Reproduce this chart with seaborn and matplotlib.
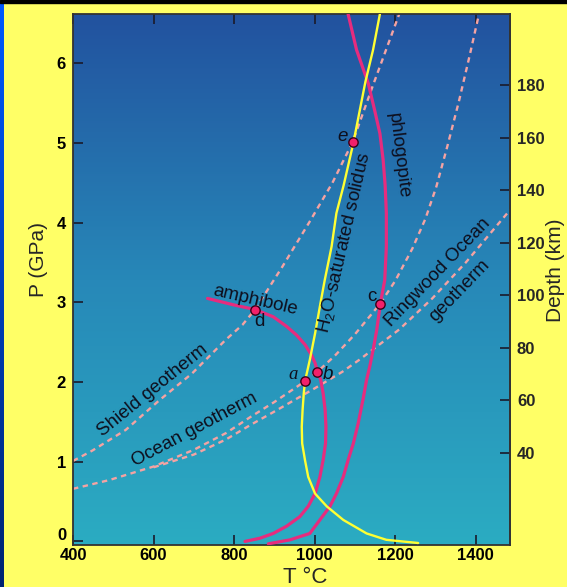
import numpy as np
import matplotlib
matplotlib.use("Agg")
import matplotlib.pyplot as plt
import matplotlib.transforms as mtransforms
from matplotlib.colors import LinearSegmentedColormap
from matplotlib.patches import Rectangle
import seaborn as sns

# ---- data: temperature (deg C) and pressure (GPa) ----
shield_T = [400, 448, 531, 614, 696, 779, 821, 852, 920, 986, 1044, 1094, 1143, 1210]
shield_P = [1.01, 1.14, 1.40, 1.77, 2.11, 2.53, 2.72, 2.91, 3.45, 4.00, 4.50, 5.01, 5.70, 6.62]

ocean_T = [400, 490, 600, 700, 780, 840, 900, 976, 1007, 1050, 1100, 1162, 1200, 1243,
           1275, 1302, 1330, 1358, 1384, 1408]
ocean_P = [0.66, 0.77, 0.94, 1.15, 1.36, 1.56, 1.75, 2.01, 2.13, 2.33, 2.60, 2.98, 3.27, 3.68,
           4.05, 4.45, 4.97, 5.52, 6.08, 6.62]

ringwood_T = [600, 700, 780, 840, 900, 1003, 1069, 1111, 1210, 1292, 1375, 1485]
ringwood_P = [0.93, 1.09, 1.28, 1.46, 1.63, 1.93, 2.13, 2.28, 2.66, 3.05, 3.50, 4.16]

solidus_T = [1162, 1145, 1126, 1096, 1072, 1054, 1042, 1025, 1013, 1001, 988, 976, 973, 970,
             968, 969, 976, 984, 1001, 1030, 1071, 1129, 1178, 1257]
solidus_P = [6.62, 6.17, 5.77, 5.00, 4.47, 4.12, 3.70, 3.28, 2.95, 2.61, 2.28, 2.01, 1.86, 1.65,
             1.44, 1.23, 1.02, 0.81, 0.60, 0.44, 0.27, 0.10, 0.02, -0.02]

phlogopite_T = [1083, 1104, 1133, 1149, 1162, 1170, 1175, 1178, 1178, 1174, 1163, 1154, 1145,
                1137, 1129, 1120, 1108, 1096, 1083, 1071, 1054, 1038, 1013, 988, 939, 885]
phlogopite_P = [6.62, 6.17, 5.75, 5.41, 5.12, 4.79, 4.47, 4.12, 3.70, 3.28, 2.98, 2.65, 2.40,
                2.20, 2.03, 1.78, 1.48, 1.23, 1.02, 0.81, 0.60, 0.44, 0.27, 0.10, 0.02, -0.03]

amphibole_T = [734, 798, 852, 897, 930, 955, 976, 992, 1001, 1007, 1015, 1021, 1026, 1028,
               1027, 1021, 1013, 1001, 984, 963, 930, 897, 864, 827]
amphibole_P = [3.05, 2.97, 2.91, 2.82, 2.70, 2.59, 2.47, 2.34, 2.24, 2.13, 2.03, 1.86, 1.65,
               1.44, 1.23, 1.02, 0.81, 0.60, 0.44, 0.31, 0.19, 0.10, 0.04, 0.00]

point_names = ["a", "b", "c", "d", "e"]
point_T = [976, 1007, 1162, 852, 1094]
point_P = [2.01, 2.13, 2.98, 2.91, 5.01]

x_ticks = [400, 600, 800, 1000, 1200, 1400]
p_ticks = [0, 1, 2, 3, 4, 5, 6]
depth_ticks = [40, 60, 80, 100, 120, 140, 160, 180]

# depth (km) as a linear function of pressure (GPa)
KM_PER_GPA = 30.3
KM_OFFSET = 6.4

sns.set_theme(style="white")
plt.rcParams["font.family"] = ["Liberation Sans", "DejaVu Sans"]
plt.rcParams["mathtext.fontset"] = "custom"
plt.rcParams["mathtext.rm"] = "Liberation Sans"
plt.rcParams["mathtext.it"] = "Liberation Sans:italic"

W, H = 567, 587
fig = plt.figure(figsize=(W / 100, H / 100), dpi=100, facecolor="#FFFF66")

# frame decorations: black top rule and blue strip on the left
fig.add_artist(Rectangle((0, 1 - 3 / H), 1, 3 / H, transform=fig.transFigure,
                         color="black", zorder=5))
strip = fig.add_axes([0, 0, 4 / W, 1 - 3 / H])
strip.imshow(np.linspace(0, 1, 256).reshape(-1, 1), aspect="auto", origin="lower",
             cmap=LinearSegmentedColormap.from_list("strip", ["#002470", "#0058FF"]))
strip.set_axis_off()

ax = fig.add_axes([73 / W, 42 / H, 437 / W, 531 / H])
xlim = (400, 1485)
ylim = (-0.045, 6.62)

bg = LinearSegmentedColormap.from_list("bg", ["#2BACC2", "#2788B8", "#22529F"])
ax.imshow(np.linspace(0, 1, 256).reshape(-1, 1), extent=[*xlim, *ylim], origin="lower",
          aspect="auto", cmap=bg, zorder=0)

dash_color = "#F4A3A3"
dash_style = (0, (2.3, 1.9))
for T, P in [(shield_T, shield_P), (ocean_T, ocean_P), (ringwood_T, ringwood_P)]:
    sns.lineplot(x=T, y=P, sort=False, estimator=None, ax=ax, color=dash_color,
                 lw=1.7, linestyle=dash_style, zorder=2)

pink = "#E62C7E"
for T, P in [(phlogopite_T, phlogopite_P), (amphibole_T, amphibole_P)]:
    sns.lineplot(x=T, y=P, sort=False, estimator=None, ax=ax, color=pink, lw=2.3,
                 solid_capstyle="round", solid_joinstyle="round", zorder=3)
sns.lineplot(x=solidus_T, y=solidus_P, sort=False, estimator=None, ax=ax, color="#FFFF33",
             lw=1.7, solid_capstyle="round", solid_joinstyle="round", zorder=4)

sns.scatterplot(x=point_T, y=point_P, ax=ax, color="#F2206A", edgecolor="#3A0018",
                linewidth=1.0, s=45, zorder=6)

ax.set_xlim(*xlim)
ax.set_ylim(*ylim)

# curve and point labels
txt = dict(color="#0E0E1C", ha="center", va="center", rotation_mode="anchor", zorder=7)
ax.text(597, 1.89, "Shield geotherm", fontsize=13.5, rotation=39, **txt)
ax.text(701, 1.40, "Ocean geotherm", fontsize=13.5, rotation=28, **txt)
ax.text(852, 3.03, "amphibole", fontsize=13.5, rotation=-13, **txt)
ax.text(1073, 3.75, r"H$_\mathregular{2}$O-saturated solidus", fontsize=13.5, rotation=77, **txt)
ax.text(1209, 4.84, "phlogopite", fontsize=13.5, rotation=-83, **txt)
ax.text(1306, 3.38, "Ringwood Ocean", fontsize=13.5, rotation=46, **txt)
ax.text(1361, 3.15, "geotherm", fontsize=13.5, rotation=46, **txt)

label_pos = {"a": (946, 2.09), "b": (1033, 2.09), "c": (1141, 3.07),
             "d": (864, 2.76), "e": (1069, 5.08)}
label_font = {"a": dict(family="Liberation Serif", style="italic"),
              "b": dict(style="italic"), "c": {}, "d": {}, "e": dict(style="italic")}
for name in point_names:
    x, y = label_pos[name]
    ax.text(x, y, name, fontsize=13.5, **label_font[name], **txt)

# axes, ticks, labels
ax.set_xticks(x_ticks)
ax.set_yticks(p_ticks)
for s in ax.spines.values():
    s.set_color("#333333")
    s.set_linewidth(1.3)
ax.tick_params(axis="both", direction="in", length=7, width=1.2, color="#1A1A2A",
               labelsize=12, labelcolor="black", top=True, right=False,
               bottom=True, left=True)
ax.tick_params(axis="x", pad=2)
ax.tick_params(axis="y", pad=5)
for lab in ax.get_xticklabels() + ax.get_yticklabels():
    lab.set_fontweight("bold")
# the zero label sits a little above its tick
zero_lab = ax.get_yticklabels()[0]
zero_lab.set_transform(zero_lab.get_transform()
                       + mtransforms.ScaledTranslation(0, 5 / 72, fig.dpi_scale_trans))

ax.set_xlabel("T °C", fontsize=16, va="center")
ax.xaxis.set_label_coords(0.531, -0.062)
ax.set_ylabel("P (GPa)", fontsize=15, va="center")
ax.yaxis.set_label_coords(-0.08, 0.537)

sec = ax.secondary_yaxis("right", functions=(lambda p: KM_PER_GPA * p + KM_OFFSET,
                                             lambda d: (d - KM_OFFSET) / KM_PER_GPA))
sec.set_yticks(depth_ticks)
sec.spines["right"].set_color("#333333")
sec.spines["right"].set_linewidth(1.3)
sec.tick_params(direction="in", length=7, width=1.2, color="#1A1A2A", labelsize=12, pad=5)
for lab in sec.get_yticklabels():
    lab.set_fontweight("bold")
sec.set_ylabel("Depth (km)", fontsize=15, va="center")
sec.yaxis.set_label_coords(1.103, 0.518, transform=ax.transAxes)

fig.savefig("out.png", dpi=100, facecolor=fig.get_facecolor())
